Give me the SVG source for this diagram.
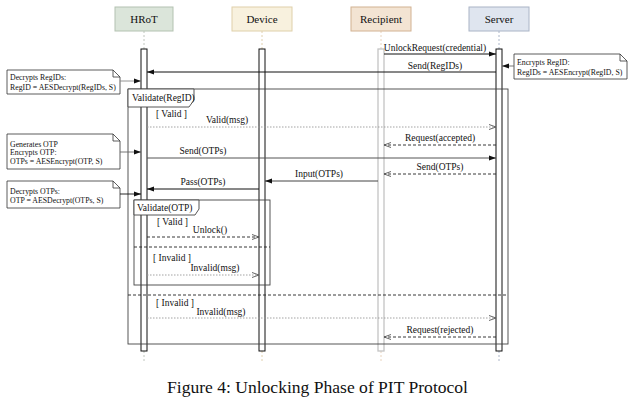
<svg xmlns="http://www.w3.org/2000/svg" width="633" height="406" viewBox="0 0 633 406">
<style>
text{font-family:"Liberation Serif","Times New Roman",serif;fill:#111}
.hd{font-size:11px;text-anchor:middle}
.lb{font-size:9.5px;text-anchor:middle}
.gd{font-size:9.5px}
.nt{font-size:7.8px}
.bar{fill:#fff;stroke:#111;stroke-width:1}
.ll{stroke-width:0.8;stroke-dasharray:2,2;fill:none}
.note{fill:#fff;stroke:#333;stroke-width:0.8}
.frame{fill:none;stroke:#444;stroke-width:0.9}
.tab{fill:#fff;stroke:#444;stroke-width:0.9}
.sol{stroke:#111;stroke-width:1;fill:none}
.dsh{stroke:#222;stroke-width:0.9;stroke-dasharray:3,2;fill:none}
.dot{stroke:#999;stroke-width:0.9;stroke-dasharray:1.5,1.5;fill:none}
</style>
<defs>
<marker id="fa" viewBox="0 0 7 6" refX="7" refY="3" markerWidth="7" markerHeight="6" orient="auto" markerUnits="userSpaceOnUse"><path d="M0,0.5 L7,3 L0,5.5 z" fill="#111"/></marker>
<marker id="oa" viewBox="0 0 7 6" refX="7" refY="3" markerWidth="7" markerHeight="6" orient="auto" markerUnits="userSpaceOnUse"><path d="M0,0.5 L7,3 L0,5.5" fill="none" stroke="#555" stroke-width="0.9"/></marker>
</defs>
<rect width="633" height="406" fill="#fff"/>

<g id="hrot">
<line class="ll" x1="144" y1="31" x2="144" y2="49" stroke="#b0b8ad"/>
<line class="ll" x1="144" y1="351" x2="144" y2="363" stroke="#b0b8ad"/>
<rect x="115" y="7" width="58" height="24" fill="#dbe5da" stroke="#b3c2b1"/>
<text class="hd" x="144" y="23">HRoT</text>
<rect class="bar" x="141" y="49" width="6" height="302"/>
</g>
<g id="device">
<line class="ll" x1="262" y1="31" x2="262" y2="49" stroke="#d8c49a"/>
<line class="ll" x1="262" y1="351" x2="262" y2="363" stroke="#d8c49a"/>
<rect x="232" y="7" width="60" height="24" fill="#f8f1de" stroke="#dfd0aa"/>
<text class="hd" x="262" y="23">Device</text>
<rect class="bar" x="259" y="49" width="6" height="302"/>
</g>
<g id="recipient">
<line class="ll" x1="381" y1="31" x2="381" y2="49" stroke="#e3c9ad"/>
<line class="ll" x1="381" y1="351" x2="381" y2="363" stroke="#e3c9ad"/>
<rect x="351" y="7" width="60" height="24" fill="#f3e4d3" stroke="#d2b292"/>
<text class="hd" x="381" y="23">Recipient</text>
<rect x="378" y="49" width="6" height="302" fill="#fff" stroke="#c4c4c4" stroke-width="1.3"/>
</g>
<g id="server">
<line class="ll" x1="499" y1="31" x2="499" y2="49" stroke="#98a3bb"/>
<line class="ll" x1="499" y1="351" x2="499" y2="363" stroke="#98a3bb"/>
<rect x="469" y="7" width="60" height="24" fill="#dfe5ef" stroke="#aab4c6"/>
<text class="hd" x="499" y="23">Server</text>
<rect class="bar" x="496" y="49" width="6" height="302"/>
</g>

<g id="frame-validate-regid">
<rect class="frame" x="128" y="89" width="380" height="255"/>
<path class="tab" d="M128,89 H194 V100 L189,107 H128 Z"/>
<text class="gd" x="132" y="101">Validate(RegID)</text>
<line class="dsh" x1="128" y1="295" x2="508" y2="295" stroke="#222"/>
<text class="gd" x="156" y="117">[ Valid ]</text>
<text class="gd" x="156" y="306">[ Invalid ]</text>
</g>
<g id="frame-validate-otp">
<rect class="frame" x="134" y="200" width="136" height="85"/>
<path class="tab" d="M134,200 H199 V209 L195,215 H134 Z"/>
<text class="gd" x="137" y="211">Validate(OTP)</text>
<line class="dsh" x1="134" y1="247" x2="270" y2="247" stroke="#666"/>
<text class="gd" x="157" y="225">[ Valid ]</text>
<text class="gd" x="153" y="261">[ Invalid ]</text>
</g>

<g id="note-encrypt-regid">
<path class="note" d="M514,54 H620 L627,61 V79 H514 Z"/>
<path d="M620,54 V61 H627" fill="none" stroke="#333" stroke-width="0.8"/>
<text class="nt" x="517" y="65">Encrypts RegID:</text>
<text class="nt" x="517" y="75">RegIDs = AESEncrypt(RegID, S)</text>
</g>
<g id="note-decrypt-regids">
<path class="note" d="M7,70 H113 L120,77 V94 H7 Z"/>
<path d="M113,70 V77 H120" fill="none" stroke="#333" stroke-width="0.8"/>
<text class="nt" x="10" y="80">Decrypts RegIDs:</text>
<text class="nt" x="10" y="89.5">RegID = AESDecrypt(RegIDs, S)</text>
</g>
<g id="note-generate-otp">
<path class="note" d="M7,134 H113 L120,141 V169 H7 Z"/>
<path d="M113,134 V141 H120" fill="none" stroke="#333" stroke-width="0.8"/>
<text class="nt" x="10" y="146.5">Generates OTP</text>
<text class="nt" x="10" y="155">Encrypts OTP:</text>
<text class="nt" x="10" y="164">OTPs = AESEncrypt(OTP, S)</text>
</g>
<g id="note-decrypt-otps">
<path class="note" d="M7,181 H113 L120,188 V208 H7 Z"/>
<path d="M113,181 V188 H120" fill="none" stroke="#333" stroke-width="0.8"/>
<text class="nt" x="10" y="193.5">Decrypts OTPs:</text>
<text class="nt" x="10" y="203">OTP = AESDecrypt(OTPs, S)</text>
</g>

<g id="connectors">
<line x1="514" y1="66" x2="502" y2="66" stroke="#666" stroke-width="0.9" marker-end="url(#fa)"/>
<line x1="120" y1="81" x2="141" y2="81" stroke="#888" stroke-width="0.9" marker-end="url(#fa)"/>
<line x1="120" y1="152" x2="141" y2="152" stroke="#666" stroke-width="0.9" marker-end="url(#fa)"/>
<line x1="120" y1="194" x2="141" y2="194" stroke="#111" stroke-width="0.9" marker-end="url(#fa)"/>

<line class="sol" x1="384" y1="54" x2="496" y2="54" marker-end="url(#fa)"/>
<text class="lb" x="435" y="51">UnlockRequest(credential)</text>
<line class="sol" x1="496" y1="72" x2="147" y2="72" marker-end="url(#fa)"/>
<text class="lb" x="435" y="69">Send(RegIDs)</text>
<line class="dot" x1="147" y1="127" x2="496" y2="127" marker-end="url(#oa)"/>
<text class="lb" x="227" y="123">Valid(msg)</text>
<line class="dsh" x1="496" y1="145" x2="384" y2="145" marker-end="url(#oa)"/>
<text class="lb" x="440" y="141">Request(accepted)</text>
<line x1="147" y1="158" x2="496" y2="158" stroke="#555" stroke-width="1" marker-end="url(#fa)"/>
<text class="lb" x="203" y="154">Send(OTPs)</text>
<line class="dsh" x1="496" y1="174" x2="384" y2="174" marker-end="url(#oa)"/>
<text class="lb" x="440" y="170">Send(OTPs)</text>
<line x1="378" y1="181" x2="265" y2="181" stroke="#444" stroke-width="1" marker-end="url(#fa)"/>
<text class="lb" x="319" y="177">Input(OTPs)</text>
<line class="sol" x1="259" y1="189" x2="147" y2="189" marker-end="url(#fa)"/>
<text class="lb" x="203" y="185">Pass(OTPs)</text>
<line class="dsh" x1="147" y1="237" x2="259" y2="237" marker-end="url(#oa)"/>
<text class="lb" x="210" y="233">Unlock()</text>
<line class="dot" x1="147" y1="275" x2="259" y2="275" marker-end="url(#oa)"/>
<text class="lb" x="215" y="271">Invalid(msg)</text>
<line class="dot" x1="147" y1="318" x2="496" y2="318" marker-end="url(#oa)"/>
<text class="lb" x="221" y="315">Invalid(msg)</text>
<line class="dsh" x1="496" y1="337" x2="384" y2="337" marker-end="url(#oa)"/>
<text class="lb" x="440" y="333">Request(rejected)</text>
</g>

<text x="167" y="393" font-size="17" textLength="301" lengthAdjust="spacingAndGlyphs">Figure 4: Unlocking Phase of PIT Protocol</text>
</svg>
